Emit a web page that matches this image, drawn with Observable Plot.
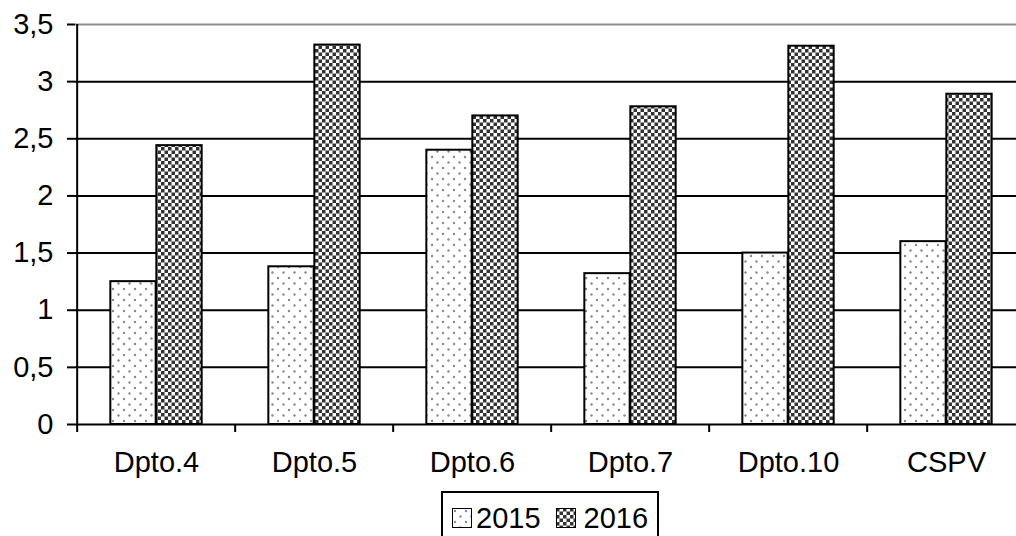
<!DOCTYPE html>
<html>
<head>
<meta charset="utf-8">
<script src="https://cdn.jsdelivr.net/npm/d3@7"></script>
<script src="https://cdn.jsdelivr.net/npm/@observablehq/plot@0.6"></script>
<style>
html, body { margin: 0; padding: 0; background: #fff; overflow: hidden; }
#wrap { position: relative; width: 1016px; height: 536px; overflow: hidden; font-family: "Liberation Sans", Arial, sans-serif; }
#legend { position: absolute; left: 441px; top: 491px; width: 218px; height: 70px; border: 2px solid #000; box-sizing: border-box; background: #fff; }
#legend .row { display: flex; align-items: center; padding-left: 9px; padding-top: 9px; font-size: 29px; line-height: 32px; color: #000; }
#legend svg { display: block; }
</style>
</head>
<body>
<div id="wrap"><div id="chart"></div><div id="legend"></div></div>
<script>
const categories = ["Dpto.4", "Dpto.5", "Dpto.6", "Dpto.7", "Dpto.10", "CSPV"];
const v2015 = [1.25, 1.38, 2.40, 1.32, 1.50, 1.60];
const v2016 = [2.44, 3.32, 2.70, 2.78, 3.31, 2.89];
const years = ["2015", "2016"];
const yTicks = [0, 0.5, 1, 1.5, 2, 2.5, 3, 3.5];

const d2015 = categories.map((c, i) => ({cat: c, value: v2015[i]}));
const d2016 = categories.map((c, i) => ({cat: c, value: v2016[i]}));

const W = 1016, H = 488;
const plotLeft = 75, plotRight = 1027, plotTop = 24, plotBottom = 424;
const step = (plotRight - plotLeft) / categories.length;
const barW = 46;
const outer = (step - 2 * barW) / 2;

const chart = Plot.plot({
  width: W,
  height: H,
  marginLeft: plotLeft,
  marginRight: 0,
  marginTop: plotTop,
  marginBottom: H - plotBottom,
  style: {fontFamily: "'Liberation Sans', Arial, sans-serif", fontSize: "29px", background: "#fff", color: "#000"},
  x: {domain: categories, range: [plotLeft, plotRight], padding: 0, label: null},
  y: {domain: [0, 3.5], label: null},
  marks: [
    Plot.ruleY(yTicks.filter(t => t > 0 && t < 3.5), {stroke: "#000", strokeWidth: 2}),
    Plot.ruleY([yTicks[yTicks.length - 1]], {stroke: "#8c8c8c", strokeWidth: 2}),
    Plot.barY(d2015, {x: "cat", y: "value", fill: "url(#p2015)", stroke: "#000", strokeWidth: 2,
      insetLeft: outer, insetRight: step - outer - barW}),
    Plot.barY(d2016, {x: "cat", y: "value", fill: "url(#p2016)", stroke: "#000", strokeWidth: 2,
      insetLeft: outer + barW, insetRight: outer}),
    Plot.ruleY([0], {stroke: "#000", strokeWidth: 2}),
    Plot.ruleX([categories[0]], {dx: -step / 2, y1: 0, y2: 3.5, stroke: "#000", strokeWidth: 2}),
    Plot.ruleX(categories, {dx: -step / 2, y1: 0, y2: 0, insetBottom: -8, stroke: "#000", strokeWidth: 2}),
    Plot.axisY({ticks: yTicks, tickSize: 8, tickPadding: 14, strokeWidth: 2, label: null,
      tickFormat: d => String(d).replace(".", ",")}),
    Plot.axisX({tickSize: 0, tickPadding: 27, label: null})
  ]
});
document.getElementById("chart").appendChild(chart);

// patterns
const svg = d3.select(chart);
const defs = svg.insert("defs", ":first-child");
const p1 = defs.append("pattern").attr("id", "p2015").attr("patternUnits", "userSpaceOnUse")
  .attr("width", 11).attr("height", 11);
p1.append("rect").attr("width", 11).attr("height", 11).attr("fill", "#fff");
p1.append("circle").attr("cx", 3).attr("cy", 3).attr("r", 1.2).attr("fill", "#8a8a8a");
p1.append("circle").attr("cx", 8.5).attr("cy", 8.5).attr("r", 1.2).attr("fill", "#8a8a8a");
const p2 = defs.append("pattern").attr("id", "p2016").attr("patternUnits", "userSpaceOnUse")
  .attr("width", 7).attr("height", 7);
p2.append("rect").attr("width", 7).attr("height", 7).attr("fill", "#fff");
p2.append("rect").attr("x", 0).attr("y", 0).attr("width", 3.5).attr("height", 3.5).attr("fill", "#333");
p2.append("rect").attr("x", 3.5).attr("y", 3.5).attr("width", 3.5).attr("height", 3.5).attr("fill", "#333");

// legend
const row = d3.select("#legend").append("div").attr("class", "row");
years.forEach((y, i) => {
  const s = row.append("svg").attr("width", 20).attr("height", 20)
    .style("margin-left", i === 0 ? "0px" : "15px").style("margin-right", i === 0 ? "4px" : "8px");
  s.append("rect").attr("x", 0.5).attr("y", 0.5).attr("width", 19).attr("height", 19)
    .attr("fill", `url(#p${y})`).attr("stroke", "#000").attr("stroke-width", 1);
  row.append("span").text(y);
});
</script>
</body>
</html>
